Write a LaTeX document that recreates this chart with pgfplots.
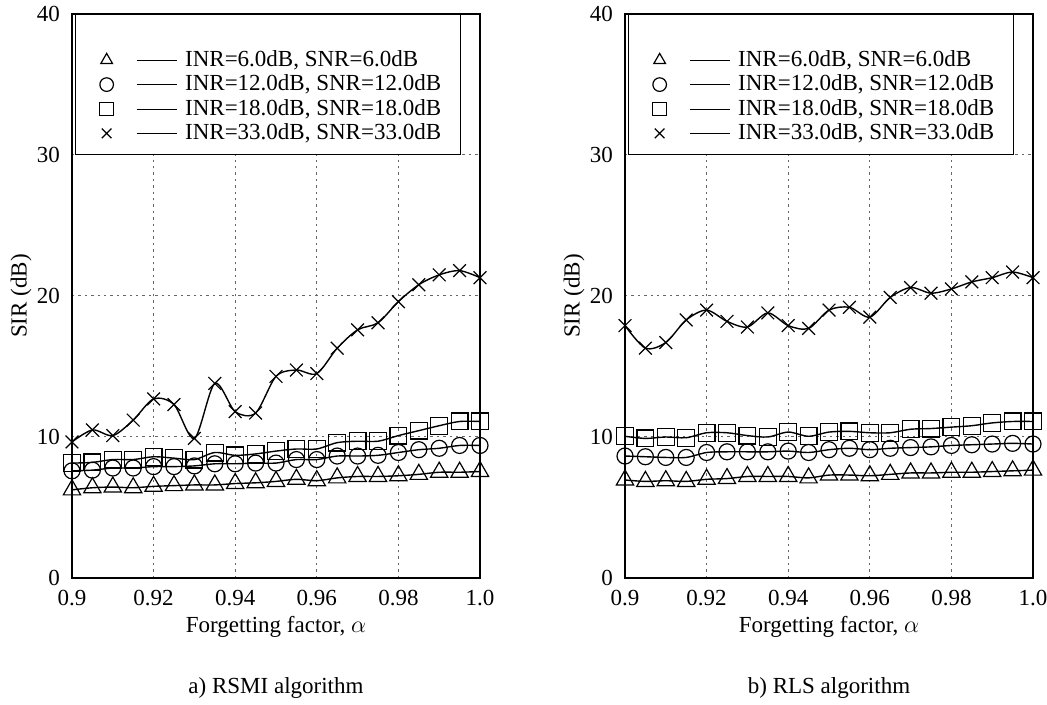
\documentclass[border=0pt]{standalone}
\usepackage{fontspec}
\setmainfont{Liberation Serif}
\usepackage{pgfplots}
\usepackage{pgfplotstable}
\pgfplotsset{compat=1.18}

\pgfplotstableread{
a     t     c     s     x
0.900 6.25  7.60  8.15  9.65
0.905 6.40  7.65  8.20  10.5
0.910 6.45  7.80  8.40  10.1
0.915 6.40  7.80  8.40  11.2
0.920 6.50  7.90  8.60  12.7
0.925 6.55  7.90  8.50  12.3
0.930 6.60  7.95  8.40  9.9
0.935 6.60  8.10  8.90  13.8
0.940 6.70  8.10  8.70  11.8
0.945 6.75  8.15  8.80  11.7
0.950 6.85  8.15  9.00  14.3
0.955 7.00  8.40  9.15  14.75
0.960 6.90  8.40  9.15  14.5
0.965 7.10  8.65  9.60  16.3
0.970 7.20  8.65  9.70  17.6
0.975 7.20  8.70  9.70  18.1
0.980 7.25  8.90  10.10 19.6
0.985 7.35  9.10  10.45 20.8
0.990 7.50  9.20  10.80 21.5
0.995 7.50  9.40  11.10 21.8
1.000 7.55  9.40  11.10 21.3
}\rsmi

\pgfplotstableread{
a     t     c     s     x
0.900 6.95  8.65  10.05 17.9
0.905 6.85  8.60  9.90  16.3
0.910 6.90  8.55  10.00 16.7
0.915 6.85  8.55  9.95  18.3
0.920 7.00  8.90  10.30 19.0
0.925 7.05  8.95  10.30 18.2
0.930 7.20  8.95  10.10 17.8
0.935 7.20  8.95  10.00 18.8
0.940 7.20  9.00  10.35 17.9
0.945 7.10  8.90  10.05 17.7
0.950 7.30  9.10  10.35 19.0
0.955 7.30  9.20  10.40 19.2
0.960 7.25  9.10  10.30 18.5
0.965 7.35  9.20  10.30 19.9
0.970 7.45  9.25  10.55 20.6
0.975 7.45  9.30  10.60 20.2
0.980 7.50  9.40  10.70 20.5
0.985 7.50  9.45  10.80 21.0
0.990 7.55  9.50  11.00 21.3
0.995 7.60  9.55  11.10 21.7
1.000 7.65  9.50  11.10 21.3
}\rls

\pgfplotsset{
  sirstyle/.style={
    scale only axis,
    width=204pt, height=282pt,
    anchor=south west,
    xmin=0.9, xmax=1.0, ymin=0, ymax=40,
    xtick={0.9,0.92,0.94,0.96,0.98,1.0},
    xticklabels={0.9,0.92,0.94,0.96,0.98,1.0},
    ytick={0,10,20,30,40},
    yticklabels={0,10,20,30,40},
    major tick length=0pt,
    grid=major,
    grid style={black!60, line width=0.5pt, dash pattern=on 1.2pt off 2pt},
    axis line style={line width=0.9pt},
    clip=false,
    xticklabel style={yshift=-2pt},
    yticklabel style={xshift=-2pt},
    xlabel={Forgetting factor, $\alpha$},
    ylabel={SIR (dB)},
    every axis x label/.style={at={(axis description cs:0.5,0)}, yshift=-24.5pt, anchor=center},
    every axis y label/.style={at={(axis description cs:-0.125,0.5)}, rotate=90, anchor=center},
    legend cell align=left,
    legend style={at={(axis description cs:0.0075,1)}, anchor=north west,
      draw=black, line width=0.6pt, fill=white,
      inner xsep=8.5pt, inner ysep=4.5pt, column sep=3pt,
      nodes={inner sep=1pt, text height=8.2pt, text depth=2pt}},
    legend image code/.code={
      \path[draw=none] (-4pt,0pt) -- (0pt,0pt);
      \draw[only marks, mark size=3.4pt, line width=0.5pt] plot coordinates {(3pt,0pt)};
      \draw[mark=none, solid, line width=0.5pt] (18pt,0pt) -- (38pt,0pt);
    },
    every axis plot/.append style={black, line width=0.7pt, smooth, mark options={solid, line width=0.6pt}},
  }
}

\begin{document}
\fontsize{11.5pt}{13.8pt}\selectfont
\begin{tikzpicture}
\useasboundingbox (0,0) rectangle (523.5pt,352.5pt);
\begin{axis}[sirstyle, at={(36pt,63.5pt)}]
\addlegendimage{empty legend}\addlegendentry{}
\addplot[mark=triangle, mark size=5pt] table[x=a,y=t] {\rsmi};
\addlegendentry{INR=6.0dB, SNR=6.0dB}
\addplot[mark=o, mark size=4pt] table[x=a,y=c] {\rsmi};
\addlegendentry{INR=12.0dB, SNR=12.0dB}
\addplot[mark=square, mark size=4.2pt] table[x=a,y=s] {\rsmi};
\addlegendentry{INR=18.0dB, SNR=18.0dB}
\addplot[mark=x, mark size=4.5pt] table[x=a,y=x] {\rsmi};
\addlegendentry{INR=33.0dB, SNR=33.0dB}
\node at (axis description cs:0.5,0) [yshift=-55pt] {a) RSMI algorithm};
\end{axis}
\begin{axis}[sirstyle, at={(312.5pt,63.5pt)}]
\addlegendimage{empty legend}\addlegendentry{}
\addplot[mark=triangle, mark size=5pt] table[x=a,y=t] {\rls};
\addlegendentry{INR=6.0dB, SNR=6.0dB}
\addplot[mark=o, mark size=4pt] table[x=a,y=c] {\rls};
\addlegendentry{INR=12.0dB, SNR=12.0dB}
\addplot[mark=square, mark size=4.2pt] table[x=a,y=s] {\rls};
\addlegendentry{INR=18.0dB, SNR=18.0dB}
\addplot[mark=x, mark size=4.5pt] table[x=a,y=x] {\rls};
\addlegendentry{INR=33.0dB, SNR=33.0dB}
\node at (axis description cs:0.5,0) [yshift=-55pt] {b) RLS algorithm};
\end{axis}
\end{tikzpicture}
\end{document}
